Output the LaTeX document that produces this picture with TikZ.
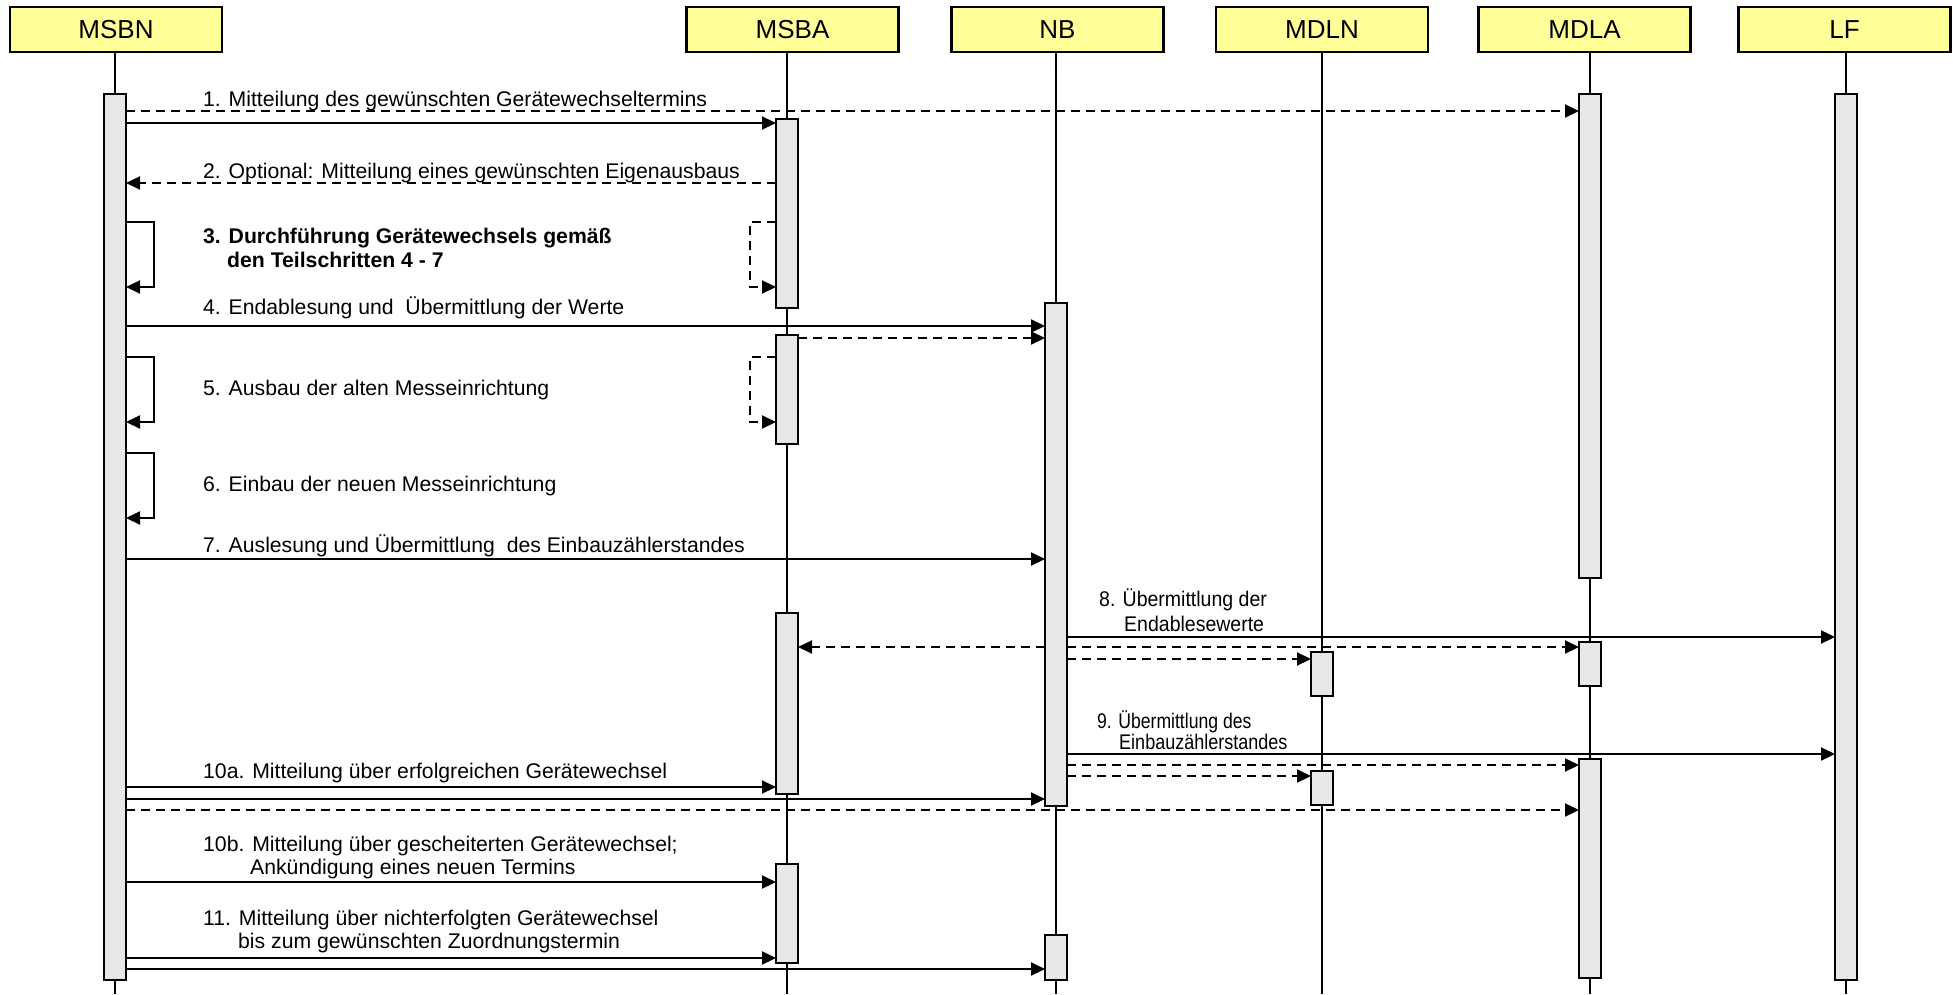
\documentclass[tikz,border=0pt]{standalone}
\usepackage{fontspec}
\usepackage{graphicx}
\setmainfont{Liberation Sans}
\usetikzlibrary{arrows.meta}
\definecolor{headfill}{HTML}{FFFF99}
\definecolor{barfill}{HTML}{E8E8E8}
\begin{document}
\begin{tikzpicture}[x=1pt,y=-1pt,
 head/.style={draw, line width=2.2pt, fill=headfill, minimum width=212pt, minimum height=45pt, font=\fontsize{26}{30}\selectfont, inner sep=0pt},
 bar/.style={draw, line width=1.6pt, fill=barfill, minimum width=22pt, inner sep=0pt, outer sep=0pt},
 life/.style={line width=1.6pt},
 msg/.style={line width=2pt, -{Triangle[length=14pt,width=13pt]}},
 rmsg/.style={msg, dash pattern=on 9pt off 6pt},
 lbl/.style={anchor=base west, inner sep=0pt, font=\fontsize{21.2}{25}\selectfont},
 blbl/.style={lbl, font=\fontsize{21.2}{25}\selectfont\bfseries},
]
\useasboundingbox (0,0) rectangle (1953,994);

% headers
\node[head] (h1) at (116,29.5) {MSBN};
\node[head] (h2) at (792.5,29.5) {MSBA};
\node[head] (h3) at (1057.5,29.5) {NB};
\node[head] (h4) at (1322,29.5) {MDLN};
\node[head] (h5) at (1584.5,29.5) {MDLA};
\node[head] (h6) at (1844.5,29.5) {LF};

% lifelines
\coordinate (e1) at (115,994);
\coordinate (e2) at (787,994);
\coordinate (e3) at (1056,994);
\coordinate (e4) at (1322,994);
\coordinate (e5) at (1590,994);
\coordinate (e6) at (1846,994);
\draw[life] (h1.south -| e1) -- (e1);
\draw[life] (h2.south -| e2) -- (e2);
\draw[life] (h3.south -| e3) -- (e3);
\draw[life] (h4.south -| e4) -- (e4);
\draw[life] (h5.south -| e5) -- (e5);
\draw[life] (h6.south -| e6) -- (e6);

% activation bars
\node[bar, minimum height=886pt] (b1) at (115,537) {};
\node[bar, minimum height=189pt] (a1) at (787,213.5) {};
\node[bar, minimum height=109pt] (a2) at (787,389.5) {};
\node[bar, minimum height=181pt] (a3) at (787,703.5) {};
\node[bar, minimum height=99pt] (a4) at (787,913.5) {};
\node[bar, minimum height=503pt] (n1) at (1056,554.5) {};
\node[bar, minimum height=45pt] (n2) at (1056,957.5) {};
\node[bar, minimum height=44pt] (d1) at (1322,674) {};
\node[bar, minimum height=34pt] (d2) at (1322,788) {};
\node[bar, minimum height=484pt] (m1) at (1590,336) {};
\node[bar, minimum height=44pt] (m2) at (1590,664) {};
\node[bar, minimum height=219pt] (m3) at (1590,868.5) {};
\node[bar, minimum height=886pt] (f1) at (1846,537) {};

% messages
\draw[rmsg] (b1.east |- 0,111) -- (m1.west |- 0,111);
\draw[msg] (b1.east |- 0,123) -- (a1.west |- 0,123);
\draw[rmsg] (a1.west |- 0,183) -- (b1.east |- 0,183);
\draw[msg] (b1.east |- 0,222) -- ++(28,0) -- ++(0,65) -- (b1.east |- 0,287);
\draw[rmsg] (a1.west |- 0,222) -- ++(-26,0) -- ++(0,65) -- (a1.west |- 0,287);
\draw[msg] (b1.east |- 0,326) -- (n1.west |- 0,326);
\draw[rmsg] (a2.east |- 0,338) -- (n1.west |- 0,338);
\draw[msg] (b1.east |- 0,357) -- ++(28,0) -- ++(0,65) -- (b1.east |- 0,422);
\draw[rmsg] (a2.west |- 0,357) -- ++(-26,0) -- ++(0,65) -- (a2.west |- 0,422);
\draw[msg] (b1.east |- 0,453) -- ++(28,0) -- ++(0,65) -- (b1.east |- 0,518);
\draw[msg] (b1.east |- 0,559) -- (n1.west |- 0,559);
\draw[msg] (n1.east |- 0,637) -- (f1.west |- 0,637);
\draw[rmsg] (n1.west |- 0,647) -- (a3.east |- 0,647);
\draw[rmsg] (n1.east |- 0,647) -- (m2.west |- 0,647);
\draw[rmsg] (n1.east |- 0,659) -- (d1.west |- 0,659);
\draw[msg] (n1.east |- 0,754) -- (f1.west |- 0,754);
\draw[rmsg] (n1.east |- 0,765) -- (m3.west |- 0,765);
\draw[rmsg] (n1.east |- 0,776) -- (d2.west |- 0,776);
\draw[msg] (b1.east |- 0,787) -- (a3.west |- 0,787);
\draw[msg] (b1.east |- 0,799) -- (n1.west |- 0,799);
\draw[rmsg] (b1.east |- 0,810) -- (m3.west |- 0,810);
\draw[msg] (b1.east |- 0,882) -- (a4.west |- 0,882);
\draw[msg] (b1.east |- 0,958) -- (a4.west |- 0,958);
\draw[msg] (b1.east |- 0,969) -- (n2.west |- 0,969);

% labels
\node[lbl] (t1) at (203,106) {1. Mitteilung des gewünschten Gerätewechseltermins};
\node[lbl] (t2) at (203,178) {2. Optional: Mitteilung eines gewünschten Eigenausbaus};
\node[blbl] (t3a) at (203,243) {3. Durchführung Gerätewechsels gemäß};
\node[blbl] (t3b) at (227,267) {den Teilschritten 4 - 7};
\node[lbl] (t4) at (203,314) {4. Endablesung und\ \ Übermittlung der Werte};
\node[lbl] (t5) at (203,395) {5. Ausbau der alten Messeinrichtung};
\node[lbl] (t6) at (203,491) {6. Einbau der neuen Messeinrichtung};
\node[lbl] (t7) at (203,552) {7. Auslesung und Übermittlung\ \ des Einbauzählerstandes};
\node[lbl] (t8a) at (1099,606) {\scalebox{0.92}[1]{8. Übermittlung der}};
\node[lbl] (t8b) at (1124,631) {\scalebox{0.92}[1]{Endablesewerte}};
\node[lbl] (t9a) at (1097,728) {\scalebox{0.83}[1]{9. Übermittlung des}};
\node[lbl] (t9b) at (1119,749) {\scalebox{0.85}[1]{Einbauzählerstandes}};
\node[lbl] (t10a) at (203,778) {10a. Mitteilung über erfolgreichen Gerätewechsel};
\node[lbl] (t10b1) at (203,851) {10b. Mitteilung über gescheiterten Gerätewechsel;};
\node[lbl] (t10b2) at (250,874) {Ankündigung eines neuen Termins};
\node[lbl] (t11a) at (203,925) {11. Mitteilung über nichterfolgten Gerätewechsel};
\node[lbl] (t11b) at (238,948) {bis zum gewünschten Zuordnungstermin};
\end{tikzpicture}
\end{document}
